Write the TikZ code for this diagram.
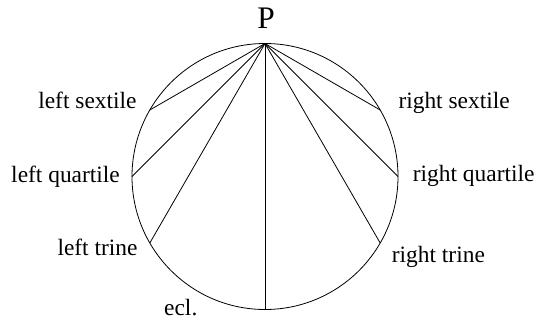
\documentclass[tikz,border=0pt]{standalone}
\usepackage{fontspec}
\setmainfont{Liberation Serif}
\usetikzlibrary{calc}
\begin{document}
\begin{tikzpicture}[x=1bp,y=1bp,
  lbl/.style={inner sep=0pt,font=\fontsize{23.5}{28}\selectfont},
  chord/.style={line width=0.8bp},
  rim/.style={line width=0.8bp}]
\useasboundingbox (0,0) rectangle (538,322);
\coordinate (c) at (265,145.5);
\def\R{133}
\coordinate (top) at ($(c)+(90:\R)$);
\coordinate (lsx) at ($(c)+(150:\R)$);
\coordinate (lqu) at ($(c)+(180:\R)$);
\coordinate (ltr) at ($(c)+(210:\R)$);
\coordinate (bot) at ($(c)+(270:\R)$);
\coordinate (rsx) at ($(c)+(30:\R)$);
\coordinate (rqu) at ($(c)+(0:\R)$);
\coordinate (rtr) at ($(c)+(-30:\R)$);
\draw[rim] (c) circle[radius=\R];
\foreach \p in {lsx,lqu,ltr,bot,rsx,rqu,rtr} \draw[chord] (top) -- (\p);
\node[lbl,anchor=base,font=\fontsize{31.5}{36}\selectfont] (P) at (266,293.7) {P};
\node[lbl,anchor=base east] (tlsx) at (136.7,213.7) {left sextile};
\node[lbl,anchor=base east] (tlqu) at (120,139.7) {left quartile};
\node[lbl,anchor=base east] (tltr) at (137.7,66.3) {left trine};
\node[lbl,anchor=base west] (trsx) at (398.3,213.7) {right sextile};
\node[lbl,anchor=base west] (trqu) at (412.7,140.3) {right quartile};
\node[lbl,anchor=base west] (trtr) at (391.7,59.3) {right trine};
\node[lbl,anchor=base west] (tecl) at (164,7) {ecl.};
\end{tikzpicture}
\end{document}
